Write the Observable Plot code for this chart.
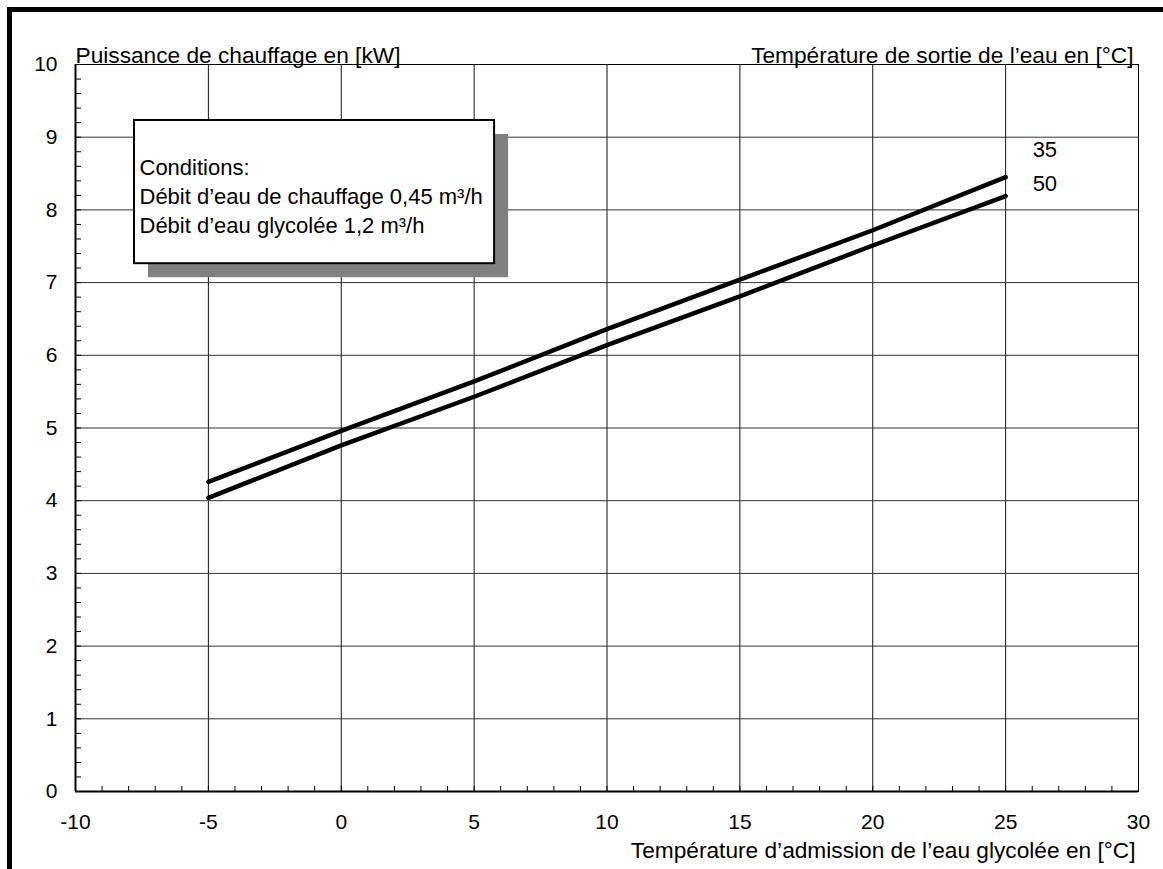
<!DOCTYPE html>
<html>
<head>
<meta charset="utf-8">
<script src="https://cdn.jsdelivr.net/npm/d3@7"></script>
<script src="https://cdn.jsdelivr.net/npm/@observablehq/plot@0.6"></script>
<style>
  html, body { margin: 0; padding: 0; background: #fff; }
  #wrap { position: relative; width: 1163px; height: 869px; overflow: hidden; }
  #border { position: absolute; left: 7px; top: 7px; right: -10px; bottom: -10px;
            border-top: 5px solid #000; border-left: 5px solid #000; pointer-events: none; }
  svg text { font-family: "Liberation Sans", Arial, Helvetica, sans-serif; }
</style>
</head>
<body>
<div id="wrap"><div id="chart"></div><div id="border"></div></div>
<script>
// ---- data ----
const inletTemps = [-5, 0, 5, 10, 15, 20, 25];            // °C, glycol water inlet
const power35 = [4.26, 4.96, 5.64, 6.36, 7.04, 7.72, 8.45]; // kW, outlet 35 °C
const power50 = [4.04, 4.76, 5.43, 6.14, 6.81, 7.51, 8.19]; // kW, outlet 50 °C
const seriesNames = ["35", "50"];
const xTicks = [-10, -5, 0, 5, 10, 15, 20, 25, 30];
const yTicks = [0, 1, 2, 3, 4, 5, 6, 7, 8, 9, 10];
const xMinor = d3.range(-10, 30.001, 1);
const yMinor = d3.range(0, 10.001, 0.2);
const yTitle = "Puissance de chauffage en [kW]";
const seriesTitle = "Température de sortie de l’eau en [°C]";
const xTitle = "Température d’admission de l’eau glycolée en [°C]";
const noteLines = ["Conditions:", "Débit d’eau de chauffage 0,45 m³/h", "Débit d’eau glycolée 1,2 m³/h"];
const noteBox = [{x1: -7.78, x2: 5.77, y1: 7.26, y2: 9.23}]; // annotation box in data units

const rows = [];
inletTemps.forEach((t, i) => {
  rows.push({x: t, y: power35[i], s: seriesNames[0]});
  rows.push({x: t, y: power50[i], s: seriesNames[1]});
});
const ends = seriesNames.map(s => rows.filter(r => r.s === s).at(-1));

const W = 1163, H = 869;
const mL = 75, mR = 25, mT = 64, mB = 78;
const plotW = W - mL - mR, plotH = H - mT - mB;
const font = "Liberation Sans, Arial, Helvetica, sans-serif";
const fs = 22, fsTitle = 22.7;

const chart = Plot.plot({
  width: W, height: H,
  marginLeft: mL, marginRight: mR, marginTop: mT, marginBottom: mB,
  style: {fontFamily: font, fontSize: fs + "px", color: "#000", background: "#fff"},
  x: {domain: [-10, 30]},
  y: {domain: [0, 10]},
  marks: [
    Plot.gridX(xTicks.slice(1, -1), {stroke: "#111", strokeOpacity: 1, strokeWidth: 1}),
    Plot.gridY(yTicks.slice(1, -1), {stroke: "#333", strokeOpacity: 1, strokeWidth: 1}),
    Plot.tickX(xMinor, {x: d => d, insetTop: plotH - 5, stroke: "#000", strokeWidth: 1}),
    Plot.tickY(yMinor, {y: d => d, insetRight: plotW - 6, stroke: "#000", strokeWidth: 1}),
    Plot.frame({stroke: "#000", strokeWidth: 1}),
    Plot.ruleX([-10], {stroke: "#000", strokeWidth: 2}),
    Plot.ruleY([0], {stroke: "#000", strokeWidth: 2}),
    Plot.axisX(xTicks, {tickSize: 0, tickPadding: 23, fontSize: 21, tickFormat: d => String(d)}),
    Plot.axisY(yTicks, {tickSize: 0, tickPadding: 18, fontSize: 21, tickFormat: d => String(d)}),
    // annotation box with shadow
    Plot.rect(noteBox, {x1: "x1", x2: "x2", y1: "y1", y2: "y2", fill: "#808080", dx: 14, dy: 14}),
    Plot.rect(noteBox, {x1: "x1", x2: "x2", y1: "y1", y2: "y2", fill: "#fff", stroke: "#000", strokeWidth: 2}),
    Plot.text(noteBox, {x: "x1", y: "y2", text: () => noteLines.join("\n"), textAnchor: "start",
      lineAnchor: "top", lineHeight: 1.32, dx: 5, dy: 34, fontSize: fs}),
    // curves
    Plot.line(rows, {x: "x", y: "y", z: "s", stroke: "#000", strokeWidth: 4.5}),
    Plot.text([ends[0]], {x: "x", y: "y", text: "s", textAnchor: "start", dx: 27, dy: -27, fontSize: fs}),
    Plot.text([ends[1]], {x: "x", y: "y", text: "s", textAnchor: "start", dx: 27, dy: -12, fontSize: fs}),
    // titles
    Plot.text([yTitle], {frameAnchor: "top-left", textAnchor: "start", dy: -18, fontSize: fsTitle}),
    Plot.text([seriesTitle], {frameAnchor: "top-right", textAnchor: "end", dy: -18, dx: -5, fontSize: fsTitle}),
    Plot.text([xTitle], {frameAnchor: "bottom-right", textAnchor: "end", dy: 66, dx: -3, fontSize: fsTitle})
  ]
});
document.getElementById("chart").appendChild(chart);
</script>
</body>
</html>
